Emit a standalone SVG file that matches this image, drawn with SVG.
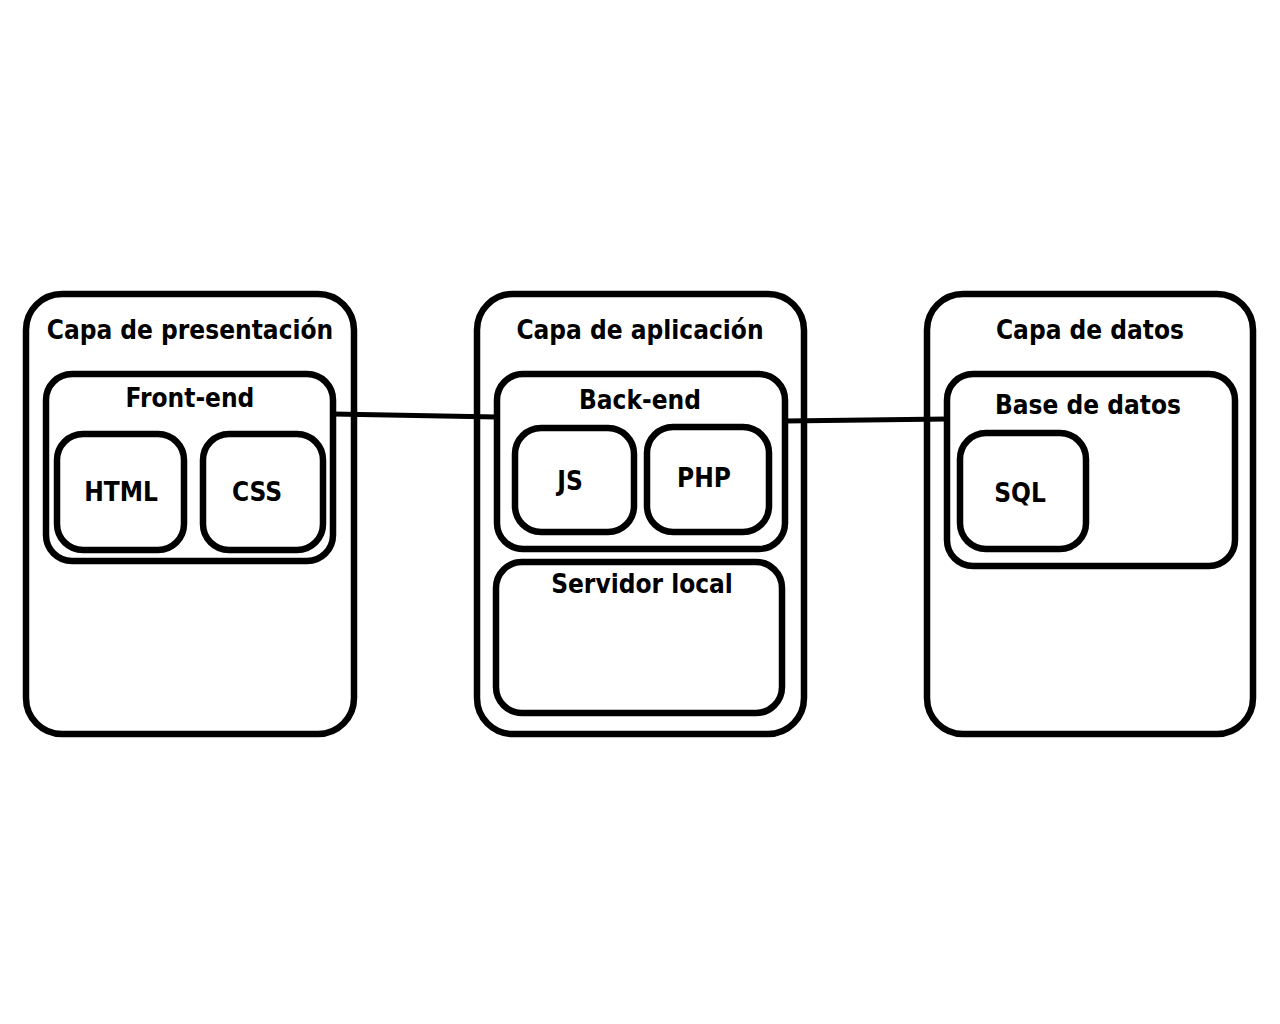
<svg xmlns="http://www.w3.org/2000/svg" width="1280" height="1024" viewBox="0 0 1280 1024">
<style>
.box{fill:none;stroke:#000;stroke-width:6.5}
.t{font-family:"DejaVu Sans Condensed","DejaVu Sans",Verdana,sans-serif;font-stretch:condensed;font-weight:bold;font-size:26px;text-anchor:middle;fill:#000}
.c{stroke:#000;stroke-width:5;fill:none}
</style>
<rect width="1280" height="1024" fill="#fff"/>
<g id="connectors">
<line class="c" x1="333" y1="414" x2="497" y2="417"/>
<line class="c" x1="785" y1="421" x2="947" y2="419"/>
</g>
<g id="capa-presentacion">
<rect class="box" x="26" y="294" width="328" height="440" rx="36"/>
<text class="t" x="190" y="339">Capa de presentación</text>
</g>
<g id="front-end">
<rect class="box" x="46" y="374" width="287" height="187" rx="26"/>
<text class="t" x="190" y="407">Front-end</text>
</g>
<g id="html">
<rect class="box" x="57" y="434" width="127" height="116" rx="26"/>
<text class="t" x="121" y="501">HTML</text>
</g>
<g id="css">
<rect class="box" x="203" y="434" width="120" height="116" rx="26"/>
<text class="t" x="257" y="501">CSS</text>
</g>
<g id="capa-aplicacion">
<rect class="box" x="477" y="294" width="327" height="440" rx="36"/>
<text class="t" x="640" y="339">Capa de aplicación</text>
</g>
<g id="back-end">
<rect class="box" x="497" y="374" width="288" height="175" rx="26"/>
<text class="t" x="640" y="409">Back-end</text>
</g>
<g id="js">
<rect class="box" x="515" y="428" width="119" height="104" rx="26"/>
<text class="t" x="570" y="490">JS</text>
</g>
<g id="php">
<rect class="box" x="647" y="427" width="122" height="105" rx="26"/>
<text class="t" x="704" y="487">PHP</text>
</g>
<g id="servidor-local">
<rect class="box" x="496" y="562" width="286" height="151" rx="26"/>
<text class="t" x="642" y="593">Servidor local</text>
</g>
<g id="capa-datos">
<rect class="box" x="927" y="294" width="326" height="440" rx="36"/>
<text class="t" x="1090" y="339">Capa de datos</text>
</g>
<g id="base-datos">
<rect class="box" x="947" y="374" width="288" height="192" rx="26"/>
<text class="t" x="1088" y="414">Base de datos</text>
</g>
<g id="sql">
<rect class="box" x="960" y="433" width="126" height="116" rx="26"/>
<text class="t" x="1020" y="502">SQL</text>
</g>
</svg>
